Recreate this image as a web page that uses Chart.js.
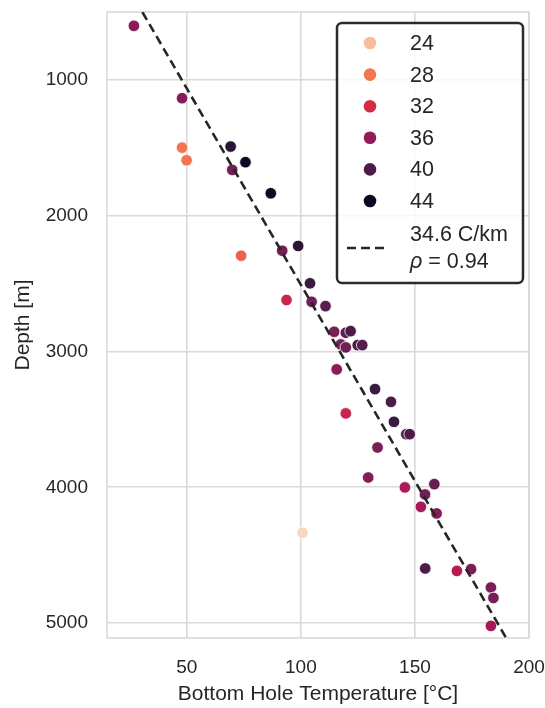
<!DOCTYPE html>
<html>
<head>
<meta charset="utf-8">
<script src="https://cdn.jsdelivr.net/npm/chart.js@4"></script>
<style>
    html, body { margin: 0; padding: 0; background: #ffffff; }
    #wrap { width: 545px; height: 708px; }
</style>
</head>
<body>
<div id="wrap"><canvas id="bhtChart" width="545" height="708"></canvas></div>
<script>
// well data: bottom hole temperature, depth and gradient (hue)
const TEMPS = [
    26.8, 47.9, 47.9, 49.9, 69.2, 75.7, 69.9, 86.8, 73.8, 91.8,
    98.8, 104.0, 93.7, 104.7, 110.8, 114.6, 119.7, 121.8, 117.5, 119.7,
    124.9, 126.9, 115.7, 132.5, 139.5, 119.7, 140.8, 146.2, 147.7, 133.6,
    129.5, 145.6, 158.5, 154.4, 152.6, 159.5, 100.7, 154.5, 168.4, 174.6,
    183.3, 184.4, 183.3
];
const DEPTHS = [
    602, 1135, 1499, 1592, 1491, 1606, 1663, 1835, 2295, 2258,
    2223, 2498, 2621, 2634, 2666, 2855, 2862, 2850, 2948, 2970,
    2953, 2953, 3132, 3277, 3371, 3456, 3518, 3609, 3609, 3707,
    3928, 4001, 3977, 4053, 4144, 4193, 4336, 4598, 4616, 4603,
    4738, 4815, 5021
];
const HUES = [
    36.5, 37, 28, 28, 42, 44, 38, 44, 29, 38,
    42, 41, 33, 38, 39, 37.5, 39, 40, 37.5, 38,
    40, 39.5, 36.5, 41, 40, 33, 41, 39.5, 40, 37.5,
    37, 34.5, 38.5, 38, 35, 37, 22.5, 40, 34, 37.5,
    37.5, 37.5, 35
];

// linear fit, end points
const FIT_TEMPS = [30.5, 190.0];
const FIT_DEPTHS = [500, 5110];
const FIT_LABEL = ["34.6 C/km", "0.94"];

const LEGEND_HUES = [24, 28, 32, 36, 40, 44];
const X_TICKS = [50, 100, 150, 200];
const Y_TICKS = [1000, 2000, 3000, 4000, 5000];

// rocket colormap (dark -> light), reversed through the hue norm
const ROCKET = ["#03051a", "#35193e", "#701f57", "#ad1759", "#e13342", "#f37651", "#f6b48f", "#faebdd"];
const HUE_NORM = [21.2, 44.7];

function hexToRgb(h) {
    return [parseInt(h.slice(1, 3), 16), parseInt(h.slice(3, 5), 16), parseInt(h.slice(5, 7), 16)];
}

function hueColor(h) {
    let t = (HUE_NORM[1] - h) / (HUE_NORM[1] - HUE_NORM[0]);
    t = Math.max(0, Math.min(1, t));
    const pos = t * (ROCKET.length - 1);
    const i = Math.min(ROCKET.length - 2, Math.floor(pos));
    const f = pos - i;
    const a = hexToRgb(ROCKET[i]);
    const b = hexToRgb(ROCKET[i + 1]);
    const c = a.map((v, k) => Math.round(v + (b[k] - v) * f));
    return `rgb(${c[0]},${c[1]},${c[2]})`;
}

const FONT = "'Liberation Sans', Arial, sans-serif";
const TEXT_COLOR = "#262626";
const GRID_COLOR = "#d9d9d9";
const LEGEND_SIZE = 21.5;
const DASH = [9, 5];

const framePlugin = {
    id: "frame",
    beforeDatasetsDraw(chart) {
        const { ctx, chartArea } = chart;
        ctx.save();
        ctx.strokeStyle = GRID_COLOR;
        ctx.lineWidth = 1.6;
        ctx.strokeRect(chartArea.left, chartArea.top, chartArea.right - chartArea.left, chartArea.bottom - chartArea.top);
        ctx.restore();
    }
};

const legendPlugin = {
    id: "hueLegend",
    afterDraw(chart) {
        const { ctx, chartArea } = chart;
        const right = chartArea.right - 6;
        const top = chartArea.top + 11;
        const w = 186;
        const h = 260;
        const left = right - w;

        ctx.save();
        ctx.beginPath();
        ctx.roundRect(left, top, w, h, 5);
        ctx.fillStyle = "rgba(255,255,255,0.8)";
        ctx.fill();
        ctx.lineWidth = 2.5;
        ctx.strokeStyle = "#2b2b2b";
        ctx.stroke();

        ctx.font = `${LEGEND_SIZE}px ${FONT}`;
        ctx.textBaseline = "middle";
        ctx.textAlign = "left";

        LEGEND_HUES.forEach((hv, i) => {
            const y = top + 20 + i * 31.6;
            ctx.beginPath();
            ctx.arc(left + 33, y, 6.3, 0, Math.PI * 2);
            ctx.fillStyle = hueColor(hv);
            ctx.fill();
            ctx.fillStyle = TEXT_COLOR;
            ctx.fillText(String(hv), left + 73, y + 1);
        });

        // fit line entry
        const ly = top + 225;
        ctx.beginPath();
        ctx.setLineDash(DASH);
        ctx.lineWidth = 2.6;
        ctx.strokeStyle = "#262626";
        ctx.moveTo(left + 10, ly);
        ctx.lineTo(left + 51, ly);
        ctx.stroke();
        ctx.setLineDash([]);

        ctx.fillStyle = TEXT_COLOR;
        ctx.fillText(FIT_LABEL[0], left + 73, ly - 13);
        ctx.font = `italic ${LEGEND_SIZE}px ${FONT}`;
        ctx.fillText("\u03c1", left + 73, ly + 14);
        const rw = ctx.measureText("\u03c1").width;
        ctx.font = `${LEGEND_SIZE}px ${FONT}`;
        ctx.fillText(" = " + FIT_LABEL[1], left + 73 + rw, ly + 14);
        ctx.restore();
    }
};

function noEdgePadding(scale) {
    scale.paddingLeft = 0;
    scale.paddingRight = 0;
    scale.paddingTop = 0;
    scale.paddingBottom = 0;
}

const ctx = document.getElementById("bhtChart").getContext("2d");

new Chart(ctx, {
    type: "scatter",
    data: {
        datasets: [
            {
                label: "fit",
                type: "line",
                data: FIT_TEMPS.map((t, i) => ({ x: t, y: FIT_DEPTHS[i] })),
                borderColor: "#262626",
                borderWidth: 2.6,
                borderDash: DASH,
                pointRadius: 0,
                fill: false,
                order: 0
            },
            {
                label: "wells",
                data: TEMPS.map((t, i) => ({ x: t, y: DEPTHS[i] })),
                pointRadius: 5.8,
                pointHoverRadius: 5.8,
                pointBackgroundColor: HUES.map(hueColor),
                pointBorderColor: "#ffffff",
                pointBorderWidth: 0.8,
                order: 1
            }
        ]
    },
    plugins: [framePlugin, legendPlugin],
    options: {
        responsive: false,
        animation: false,
        devicePixelRatio: 1,
        layout: {
            padding: { left: 0, right: 16, top: 12, bottom: 0 }
        },
        plugins: {
            legend: { display: false },
            tooltip: { enabled: false }
        },
        scales: {
            x: {
                type: "linear",
                min: 15,
                max: 200,
                afterBuildTicks: (scale) => {
                    scale.ticks = X_TICKS.map((v) => ({ value: v }));
                },
                afterFit: (scale) => {
                    scale.height = 70;
                    noEdgePadding(scale);
                },
                grid: {
                    color: GRID_COLOR,
                    lineWidth: 1.6,
                    drawTicks: false
                },
                border: { display: false },
                ticks: {
                    autoSkip: false,
                    maxRotation: 0,
                    padding: 18,
                    color: TEXT_COLOR,
                    font: { family: FONT, size: 19 },
                    callback: (v) => String(v)
                },
                title: {
                    display: true,
                    text: "Bottom Hole Temperature [°C]",
                    color: TEXT_COLOR,
                    font: { family: FONT, size: 21 },
                    padding: { top: 0, bottom: 1 }
                }
            },
            y: {
                type: "linear",
                reverse: true,
                min: 500,
                max: 5110,
                afterBuildTicks: (scale) => {
                    scale.ticks = Y_TICKS.map((v) => ({ value: v }));
                },
                afterFit: (scale) => {
                    scale.width = 107;
                    noEdgePadding(scale);
                },
                grid: {
                    color: GRID_COLOR,
                    lineWidth: 1.6,
                    drawTicks: false
                },
                border: { display: false },
                ticks: {
                    autoSkip: false,
                    padding: 19,
                    color: TEXT_COLOR,
                    font: { family: FONT, size: 19 },
                    callback: (v) => String(v)
                },
                title: {
                    display: true,
                    text: "Depth [m]",
                    color: TEXT_COLOR,
                    font: { family: FONT, size: 21 },
                    padding: { top: 11, bottom: 0 }
                }
            }
        }
    }
});
</script>
</body>
</html>
